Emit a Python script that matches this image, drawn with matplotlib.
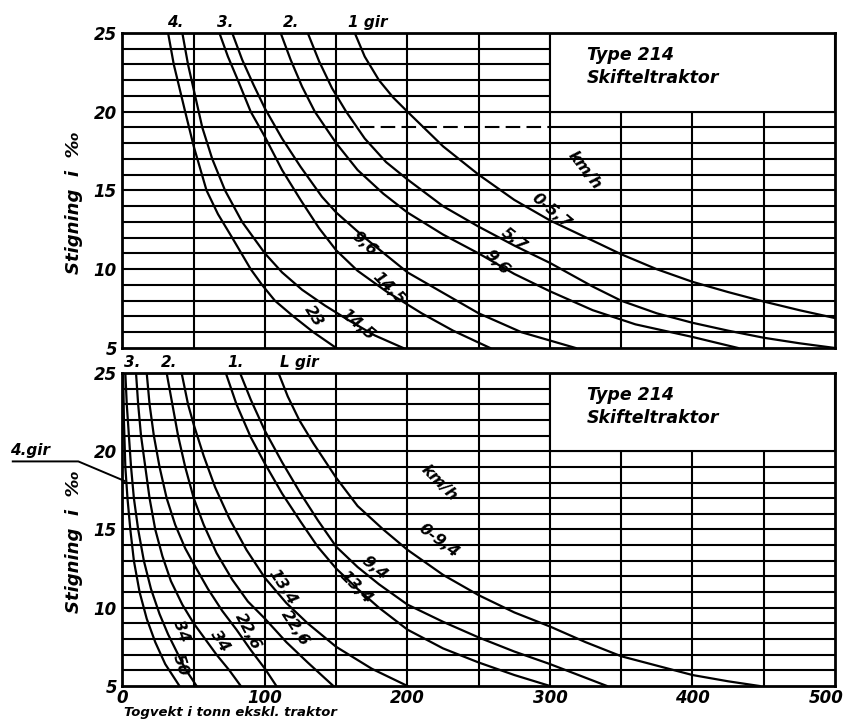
import matplotlib
matplotlib.use("Agg")
import matplotlib.pyplot as plt
from matplotlib.patches import Rectangle
from matplotlib.transforms import ScaledTranslation

# ---------------- data ----------------
# Top panel: Type 214, curves (x = tonnes, y = gradient per mille)
top_23_x   = [32, 36, 40, 44, 50, 59, 67, 77, 90, 98, 107, 120, 134, 150]
top_23_y   = [25, 23, 21.5, 20, 17.8, 15, 13.5, 12, 10, 9, 8, 7, 6, 5]
top_145a_x = [42, 46, 51, 56, 63, 72, 84, 100, 112, 126, 142, 158, 177, 197]
top_145a_y = [25, 23, 21, 19, 17, 15, 13, 11, 9.8, 8.7, 7.7, 6.8, 5.8, 5]
top_145b_x = [68, 74, 81, 90, 100, 112, 125, 138, 150, 165, 185, 210, 232, 258]
top_145b_y = [25, 23.5, 22, 20, 18.4, 16.3, 14.4, 12.6, 11.2, 9.9, 8.6, 7.2, 6.1, 5]
top_96a_x  = [77, 84, 92, 100, 112, 125, 140, 150, 170, 200, 225, 250, 280, 318]
top_96a_y  = [25, 23.3, 21.7, 20.2, 18.3, 16.5, 14.6, 13.6, 12, 9.8, 8.5, 7.2, 6, 5]
top_96b_x  = [111, 118, 126, 135, 150, 165, 183, 200, 225, 250, 275, 300, 330, 360, 400, 432]
top_96b_y  = [25, 23.3, 21.6, 20, 18, 16.3, 14.8, 13.6, 12.2, 11, 9.7, 8.6, 7.4, 6.5, 5.7, 5]
top_57_x   = [130, 138, 147, 157, 170, 185, 200, 225, 250, 275, 300, 330, 350, 375, 400, 425, 450, 475, 500]
top_57_y   = [25, 23.2, 21.5, 20, 18.3, 16.8, 15.7, 14, 12.7, 11.5, 10.4, 8.9, 8.0, 7.2, 6.6, 6.1, 5.65, 5.3, 5.0]
top_057_x  = [163, 170, 180, 190, 200, 225, 250, 275, 300, 335, 350, 375, 400, 425, 450, 475, 500]
top_057_y  = [25, 23.5, 22, 20.9, 20, 17.8, 16, 14.4, 13.1, 11.6, 10.95, 10, 9.2, 8.55, 7.95, 7.4, 6.9]

# Bottom panel curves
bot_50_x   = [0.5, 1, 2, 3.5, 5.5, 8, 12, 17, 23, 30, 40]
bot_50_y   = [25, 22, 19, 17, 15, 13, 11, 9.3, 7.8, 6.4, 5]
bot_34a_x  = [2, 3, 4.5, 6, 8, 11, 15, 20, 26, 32, 38, 44, 52]
bot_34a_y  = [25, 23, 21, 19, 17, 15, 13, 11.2, 9.6, 8.3, 7.2, 6.1, 5]
bot_34b_x  = [9.5, 11, 13, 16, 19, 23, 28, 34, 42, 50, 58, 66, 75, 83]
bot_34b_y  = [25, 23, 21, 19, 17, 15, 13.3, 11.7, 10.2, 9, 8, 7, 6, 5]
bot_226a_x = [17, 19, 22, 26, 31, 37, 44, 50, 60, 70, 80, 90, 100, 108]
bot_226a_y = [25, 23, 21, 19, 17, 15.3, 13.8, 12.8, 11.2, 9.8, 8.6, 7.3, 6.1, 5]
bot_226b_x = [31, 35, 39, 44, 50, 57, 66, 77, 88, 100, 115, 130, 148]
bot_226b_y = [25, 23, 21, 19, 17, 15.3, 13.5, 11.8, 10.4, 9.3, 7.8, 6.5, 5]
bot_134a_x = [41.5, 46, 50, 57, 65, 75, 87, 100, 115, 130, 150, 175, 200]
bot_134a_y = [25, 23, 21.7, 19.7, 17.7, 15.7, 13.7, 11.9, 10.3, 9, 7.5, 6.1, 5]
bot_134b_x = [72.5, 80, 90, 100, 112, 125, 137, 150, 165, 180, 200, 225, 250, 275, 300]
bot_134b_y = [25, 23, 20.9, 19.2, 17.3, 15.5, 13.9, 12.5, 11.2, 10, 8.6, 7.4, 6.5, 5.7, 5]
bot_94_x   = [82.5, 90, 100, 112, 125, 137, 150, 165, 180, 200, 225, 250, 275, 300, 320, 340]
bot_94_y   = [25, 23.3, 21.3, 19.3, 17.3, 15.6, 13.9, 12.6, 11.5, 10.2, 9.1, 8.1, 7.2, 6.4, 5.7, 5]
bot_094_x  = [109.5, 116, 124, 134, 150, 165, 183, 200, 225, 250, 275, 300, 325, 350, 375, 400, 425, 447]
bot_094_y  = [25, 23.5, 22, 20.5, 18.3, 16.5, 15, 13.7, 12.1, 10.8, 9.7, 8.8, 7.8, 6.9, 6.3, 5.7, 5.3, 5]

x_ticks = [0, 100, 200, 300, 400, 500]
y_ticks = [5, 10, 15, 20, 25]

# curve labels: text, x, y, rotation
top_labels = [("23", 134, 7.0, -58), ("14,5", 165, 6.5, -40), ("14,5", 187, 8.8, -45),
              ("9,6", 170, 11.6, -42), ("5,7", 275, 11.9, -38), ("9,6", 263, 10.4, -45),
              ("0-5,7", 301, 13.7, -40), ("km/h", 324, 16.3, -52)]
top_gears = [("4.", 37), ("3.", 72), ("2.", 118), ("1 gir", 172)]
bot_labels = [("0-9,4", 222, 14.3, -37), ("9,4", 177, 12.5, -40), ("13,4", 164, 11.3, -45),
              ("13,4", 112, 11.3, -57), ("22,6", 121, 8.7, -57), ("22,6", 88, 8.5, -62),
              ("34", 68, 7.9, -57), ("34", 41, 8.5, -70), ("50", 41, 6.3, -72),
              ("km/h", 222, 18.0, -45)]
bot_gears = [("3.", 7), ("2.", 33), ("1.", 79), ("L gir", 124)]

top_curves = [(top_23_x, top_23_y), (top_145a_x, top_145a_y), (top_145b_x, top_145b_y),
              (top_96a_x, top_96a_y), (top_96b_x, top_96b_y), (top_57_x, top_57_y),
              (top_057_x, top_057_y)]
bot_curves = [(bot_50_x, bot_50_y), (bot_34a_x, bot_34a_y), (bot_34b_x, bot_34b_y),
              (bot_226a_x, bot_226a_y), (bot_226b_x, bot_226b_y), (bot_134a_x, bot_134a_y),
              (bot_134b_x, bot_134b_y), (bot_94_x, bot_94_y), (bot_094_x, bot_094_y)]

# ---------------- drawing ----------------
FONT = dict(family="DejaVu Sans", style="italic", weight="bold")
LFONT = dict(family="DejaVu Sans", style="italic", weight="semibold")
fig = plt.figure(figsize=(8.5, 7.23), dpi=100)
ax_top = fig.add_axes([0.1441, 0.5187, 0.8382, 0.4357])
ax_bot = fig.add_axes([0.1441, 0.0512, 0.8382, 0.4329])

LW_GRID = 1.5
LW_CURVE = 1.6


def setup(ax, dashed19=False):
    ax.set_xlim(0, 500)
    ax.set_ylim(5, 25)
    # horizontal grid lines
    for yv in range(6, 25):
        x_end = 300 if yv > 20 else 500
        if dashed19 and yv == 19:
            ax.plot([0, 152], [yv, yv], color="black", lw=LW_GRID, zorder=1)
            ax.plot([152, 300], [yv, yv], color="black", lw=LW_GRID, zorder=1,
                    dashes=(7, 3))
            ax.plot([300, 500], [yv, yv], color="black", lw=LW_GRID, zorder=1)
        else:
            ax.plot([0, x_end], [yv, yv], color="black", lw=LW_GRID, zorder=1)
    # vertical grid lines
    for xv in range(50, 500, 50):
        y_end = 20 if xv > 300 else 25
        ax.plot([xv, xv], [5, y_end], color="black", lw=LW_GRID, zorder=1)
    # title box
    ax.add_patch(Rectangle((300, 20), 200, 5, facecolor="white", edgecolor="black",
                           lw=LW_GRID, zorder=2))
    ax.text(326, 23.6, "Type 214", fontsize=12.5, va="center", ha="left", zorder=5, **LFONT)
    ax.text(326, 22.15, "Skifteltraktor", fontsize=12.5, va="center", ha="left", zorder=5, **LFONT)
    for s in ax.spines.values():
        s.set_linewidth(2.0)
        s.set_zorder(6)
    ax.set_yticks(y_ticks)
    ax.set_yticklabels([str(v) for v in y_ticks], fontsize=12, **FONT)
    ax.tick_params(axis="y", length=0, pad=4)
    ax.set_ylabel("Stigning  i  \u2030", fontsize=13, **LFONT)
    ax.yaxis.set_label_coords(-0.056, 0.46)


setup(ax_top, dashed19=True)
setup(ax_bot)

ax_top.set_xticks([])
ax_bot.set_xticks(x_ticks)
ax_bot.set_xticklabels([str(v) for v in x_ticks], fontsize=12, **FONT)
ax_bot.tick_params(axis="x", length=0, pad=2)
last = ax_bot.get_xticklabels()[-1]
last.set_transform(last.get_transform() + ScaledTranslation(-6 / 72, 0, fig.dpi_scale_trans))
ax_bot.text(1, 3.3, "Togvekt i tonn ekskl. traktor", fontsize=9.5, ha="left", va="center",
            clip_on=False, **FONT)

for xs, ys in top_curves:
    ax_top.plot(xs, ys, color="black", lw=LW_CURVE, zorder=3, solid_joinstyle="round")
for xs, ys in bot_curves:
    ax_bot.plot(xs, ys, color="black", lw=LW_CURVE, zorder=3, solid_joinstyle="round")

for t, x, y, r in top_labels:
    ax_top.text(x, y, t, rotation=r, fontsize=11.5, ha="center", va="center", zorder=5,
                rotation_mode="anchor", **LFONT)
for t, x, y, r in bot_labels:
    ax_bot.text(x, y, t, rotation=r, fontsize=11.5, ha="center", va="center", zorder=5,
                rotation_mode="anchor", **LFONT)
for t, x in top_gears:
    ax_top.text(x, 25.2, t, fontsize=11, ha="center", va="bottom", clip_on=False, **FONT)
for t, x in bot_gears:
    ax_bot.text(x, 25.2, t, fontsize=11, ha="center", va="bottom", clip_on=False, **FONT)

# 4.gir pointer
ax_bot.text(-79, 19.6, "4.gir", fontsize=11, ha="left", va="bottom", clip_on=False, **FONT)
ax_bot.plot([-77, -31, 1.5], [19.35, 19.35, 18.1], color="black", lw=1.4, clip_on=False)

fig.savefig("out.png", dpi=100)
